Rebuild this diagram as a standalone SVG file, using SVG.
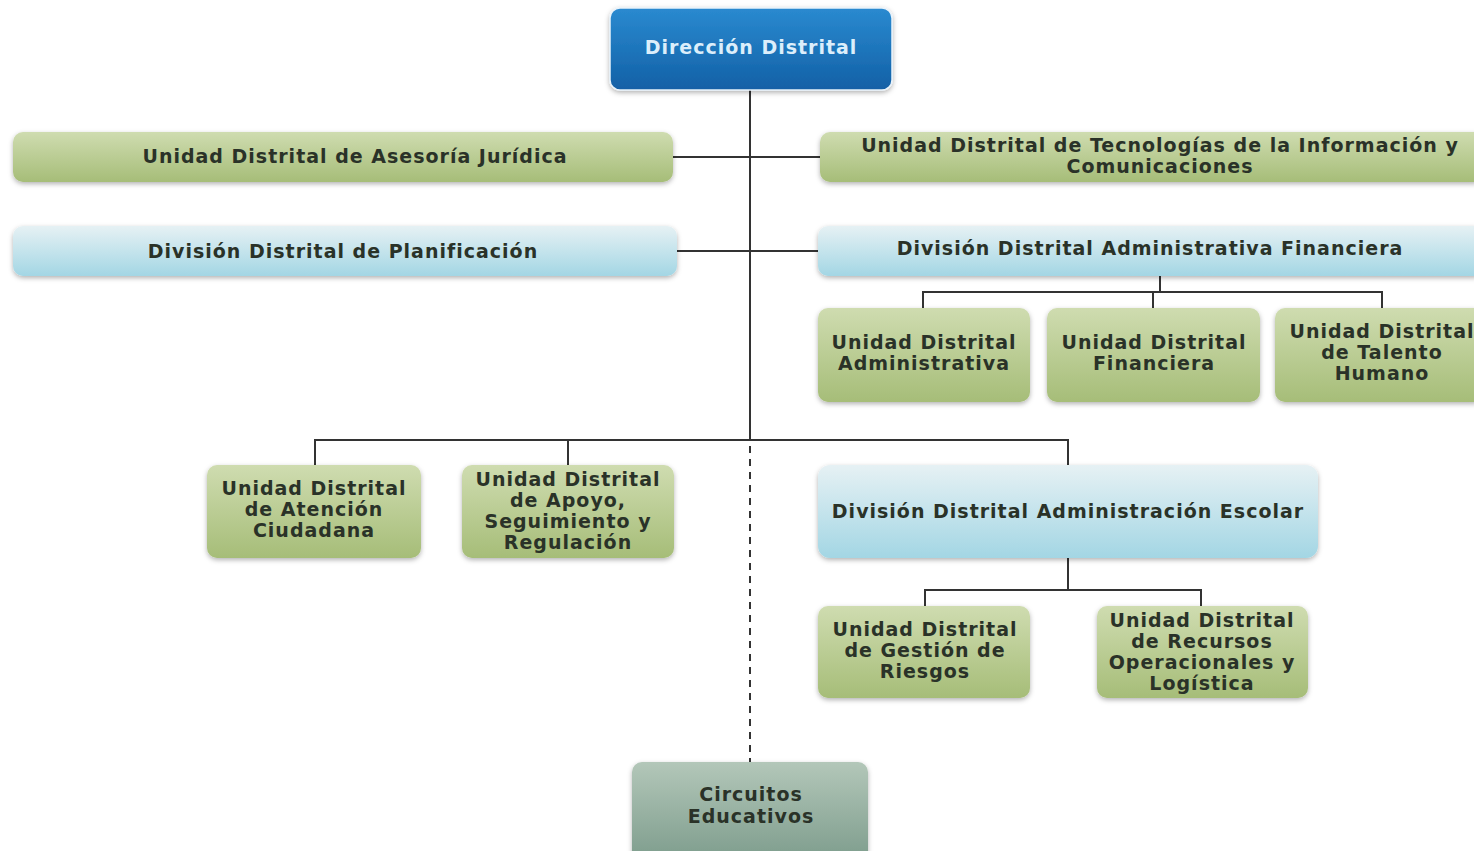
<svg xmlns="http://www.w3.org/2000/svg" width="1474" height="851" viewBox="0 0 1474 851">
<defs>
<linearGradient id="gBlue" x1="0" y1="0" x2="0" y2="1"><stop offset="0" stop-color="#2a8ad0"/><stop offset="1" stop-color="#1260a6"/></linearGradient>
<linearGradient id="gGreen" x1="0" y1="0" x2="0" y2="1"><stop offset="0" stop-color="#cfdcb0"/><stop offset="1" stop-color="#a6bd78"/></linearGradient>
<linearGradient id="gCyan" x1="0" y1="0" x2="0" y2="1"><stop offset="0" stop-color="#e6f1f4"/><stop offset="1" stop-color="#a3d6e4"/></linearGradient>
<linearGradient id="gGray" x1="0" y1="0" x2="0" y2="1"><stop offset="0" stop-color="#b3c7b9"/><stop offset="1" stop-color="#7d9c8c"/></linearGradient>
<filter id="sh" x="-10%" y="-20%" width="120%" height="150%"><feDropShadow dx="0" dy="2" stdDeviation="2.5" flood-color="#000" flood-opacity="0.3"/></filter>
</defs>
<style>
.box{filter:url(#sh)}
.green{fill:url(#gGreen)}
.cyan{fill:url(#gCyan)}
.t{font-family:"DejaVu Sans",Verdana,sans-serif;font-weight:bold;font-size:19px;letter-spacing:1px;fill:#2a3228;text-anchor:middle}
.w{fill:#dceefb}
.ln{stroke:#333;stroke-width:2;fill:none}
.dash{stroke:#333;stroke-width:2;fill:none;stroke-dasharray:7,6}
</style>
<rect width="1474" height="851" fill="#fff"/>
<g id="connectors">
<path class="ln" d="M750 90V440"/>
<path class="ln" d="M673 157H820"/>
<path class="ln" d="M677 251H818"/>
<path class="ln" d="M1160 276V292M923 308V292H1382V308M1153 292V308"/>
<path class="ln" d="M315 465V440H1068V465M568 440V465"/>
<path class="ln" d="M1068 558V590M925 606V590H1201V606"/>
<path class="dash" d="M750 446V762"/>
</g>
<g id="n-direccion"><rect class="box" x="610" y="8" width="282" height="82" rx="10" fill="url(#gBlue)" stroke="#e8f2fa" stroke-width="1.5"/><text class="t w" x="751" y="54">Dirección Distrital</text></g>
<g id="n-juridica"><rect class="box green" x="13" y="132" width="660" height="50" rx="10"/><text class="t" x="355" y="163">Unidad Distrital de Asesoría Jurídica</text></g>
<g id="n-tic"><rect class="box green" x="820" y="132" width="664" height="50" rx="10"/><text class="t" x="1160" y="152">Unidad Distrital de Tecnologías de la Información y</text><text class="t" x="1160" y="173">Comunicaciones</text></g>
<g id="n-planificacion"><rect class="box cyan" x="13" y="226" width="664" height="50" rx="10"/><text class="t" x="343" y="258">División Distrital de Planificación</text></g>
<g id="n-daf"><rect class="box cyan" x="818" y="226" width="666" height="50" rx="10"/><text class="t" x="1150" y="255">División Distrital Administrativa Financiera</text></g>
<g id="n-administrativa"><rect class="box green" x="818" y="308" width="212" height="94" rx="10"/><text class="t" x="924" y="349">Unidad Distrital</text><text class="t" x="924" y="370">Administrativa</text></g>
<g id="n-financiera"><rect class="box green" x="1047" y="308" width="213" height="94" rx="10"/><text class="t" x="1154" y="349">Unidad Distrital</text><text class="t" x="1154" y="370">Financiera</text></g>
<g id="n-talento"><rect class="box green" x="1275" y="308" width="209" height="94" rx="10"/><text class="t" x="1382" y="338">Unidad Distrital</text><text class="t" x="1382" y="359">de Talento</text><text class="t" x="1382" y="380">Humano</text></g>
<g id="n-atencion"><rect class="box green" x="207" y="465" width="214" height="93" rx="10"/><text class="t" x="314" y="495">Unidad Distrital</text><text class="t" x="314" y="516">de Atención</text><text class="t" x="314" y="537">Ciudadana</text></g>
<g id="n-apoyo"><rect class="box green" x="462" y="465" width="212" height="93" rx="10"/><text class="t" x="568" y="486">Unidad Distrital</text><text class="t" x="568" y="507">de Apoyo,</text><text class="t" x="568" y="528">Seguimiento y</text><text class="t" x="568" y="549">Regulación</text></g>
<g id="n-dae"><rect class="box cyan" x="818" y="465" width="500" height="93" rx="12"/><text class="t" x="1068" y="518">División Distrital Administración Escolar</text></g>
<g id="n-riesgos"><rect class="box green" x="818" y="606" width="212" height="92" rx="10"/><text class="t" x="925" y="636">Unidad Distrital</text><text class="t" x="925" y="657">de Gestión de</text><text class="t" x="925" y="678">Riesgos</text></g>
<g id="n-recursos"><rect class="box green" x="1097" y="606" width="211" height="92" rx="10"/><text class="t" x="1202" y="627">Unidad Distrital</text><text class="t" x="1202" y="648">de Recursos</text><text class="t" x="1202" y="669">Operacionales y</text><text class="t" x="1202" y="690">Logística</text></g>
<g id="n-circuitos"><rect class="box" x="632" y="762" width="236" height="100" rx="10" fill="url(#gGray)"/><text class="t" x="751" y="801">Circuitos</text><text class="t" x="751" y="823">Educativos</text></g>
</svg>
